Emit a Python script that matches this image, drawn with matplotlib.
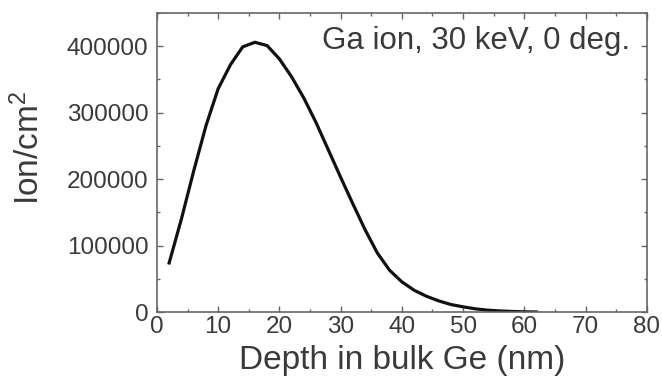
import matplotlib
matplotlib.use("Agg")
import matplotlib.pyplot as plt
from matplotlib.ticker import MultipleLocator

# Ga ion implantation profile in bulk Ge
depth_nm = [2, 4, 6, 8, 10, 12, 14, 16, 18, 20, 22, 24, 26, 28, 30, 32, 34, 36,
            38, 40, 42, 44, 46, 48, 50, 52, 54, 56, 58, 60, 62]
ion_cm2 = [74000, 140000, 212000, 280000, 336000, 372000, 399000, 406000, 401000,
           381000, 354000, 322000, 285000, 244000, 203000, 163000, 124000, 89000,
           63000, 45600, 33000, 24000, 17000, 11500, 8000, 5000, 3000, 1800, 1000,
           500, 200]

x_ticks = [0, 10, 20, 30, 40, 50, 60, 70, 80]
y_ticks = [0, 100000, 200000, 300000, 400000]

plt.rcParams['font.family'] = ['Liberation Sans', 'DejaVu Sans']
plt.rcParams['mathtext.fontset'] = 'custom'
plt.rcParams['mathtext.rm'] = 'Liberation Sans'
plt.rcParams['mathtext.it'] = 'Liberation Sans'

text_col = '#3a3a3a'
spine_col = '#666666'

fig = plt.figure(figsize=(6.62, 3.83), dpi=100)
ax = fig.add_axes([0.237, 0.185, 0.740, 0.781])

ax.plot(depth_nm, ion_cm2, color='#111111', linewidth=2.3)

ax.set_xlim(0, 80)
ax.set_ylim(0, 450000)
ax.set_xticks(x_ticks)
ax.set_yticks(y_ticks)
ax.xaxis.set_minor_locator(MultipleLocator(5))
ax.yaxis.set_minor_locator(MultipleLocator(50000))

ax.tick_params(which='both', direction='in', top=True, right=True,
               color=spine_col, width=1.0)
ax.tick_params(which='major', length=4.3)
ax.tick_params(which='minor', length=2.5)
ax.tick_params(axis='y', which='major', labelsize=17.5, labelcolor=text_col, pad=6)
ax.tick_params(axis='x', which='major', labelsize=17.5, labelcolor=text_col, pad=3)

for s in ax.spines.values():
    s.set_color(spine_col)
    s.set_linewidth(1.2)

ax.set_xlabel('Depth in bulk Ge (nm)', fontsize=24, color=text_col, labelpad=5)
ax.set_ylabel('Ion/cm$^2$', fontsize=24, color=text_col)
ax.yaxis.set_label_coords(-0.226, 0.548)

ax.text(0.965, 0.955, 'Ga ion, 30 keV, 0 deg.', transform=ax.transAxes,
        ha='right', va='top', fontsize=22.5, color=text_col)

fig.savefig('out.png', dpi=100)
